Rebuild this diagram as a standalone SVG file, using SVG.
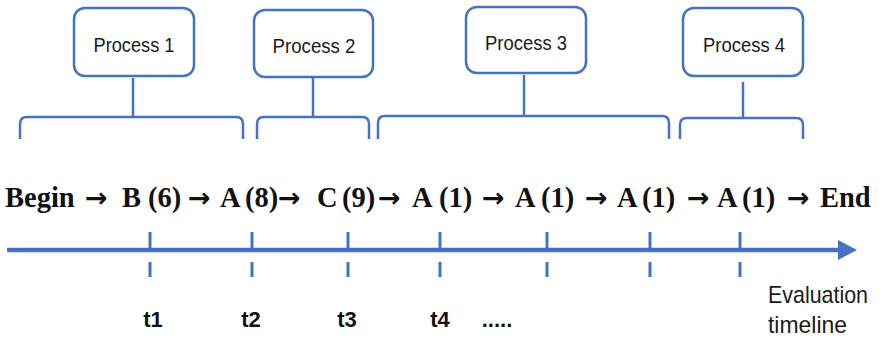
<svg xmlns="http://www.w3.org/2000/svg" width="882" height="341" viewBox="0 0 882 341">
  <style>
    .box { fill: #ffffff; stroke: #4472C4; stroke-width: 2.5; }
    .brace { fill: none; stroke: #4472C4; stroke-width: 2.5; stroke-linejoin: round; }
    .axis { stroke: #4472C4; stroke-width: 4.5; }
    .tick { stroke: #4472C4; stroke-width: 3; }
    .plabel { font-family: "Liberation Sans", Arial, sans-serif; font-size: 21px; fill: #1a1a1a; text-anchor: middle; }
    .seq { font-family: "Liberation Serif", "Times New Roman", serif; font-size: 28.5px; font-weight: bold; fill: #111111; }
    .arr { font-family: "DejaVu Sans", sans-serif; font-size: 27px; font-weight: bold; }
    .tlabel { font-family: "Liberation Sans", Arial, sans-serif; font-size: 22px; font-weight: bold; fill: #111111; text-anchor: middle; }
    .note { font-family: "Liberation Sans", Arial, sans-serif; font-size: 24px; fill: #1a1a1a; }
  </style>

  <!-- process boxes -->
  <g id="process1">
    <rect class="box" x="74" y="8" width="120" height="68" rx="11"/>
    <text class="plabel" x="134" y="52" textLength="81" lengthAdjust="spacingAndGlyphs">Process 1</text>
  </g>
  <g id="process2">
    <rect class="box" x="254" y="10" width="119" height="67" rx="11"/>
    <text class="plabel" x="314" y="53" textLength="83" lengthAdjust="spacingAndGlyphs">Process 2</text>
  </g>
  <g id="process3">
    <rect class="box" x="466" y="7" width="120" height="66" rx="11"/>
    <text class="plabel" x="526" y="50" textLength="82" lengthAdjust="spacingAndGlyphs">Process 3</text>
  </g>
  <g id="process4">
    <rect class="box" x="683" y="8" width="120" height="68" rx="11"/>
    <text class="plabel" x="744" y="52" textLength="82" lengthAdjust="spacingAndGlyphs">Process 4</text>
  </g>

  <!-- braces linking each process to its span of the sequence -->
  <g id="connectors">
    <path class="brace" d="M20,139 L20,124 Q20,117 27,117 L236,117 Q243,117 243,124 L243,139 M133,117 L133,78"/>
    <path class="brace" d="M257,139 L257,124 Q257,117 264,117 L362,117 Q369,117 369,124 L369,139 M313,117 L313,78"/>
    <path class="brace" d="M378,139 L378,123 Q378,116 385,116 L662,116 Q669,116 669,123 L669,139 M524,116 L524,75"/>
    <path class="brace" d="M680,139 L680,125 Q680,118 687,118 L796,118 Q803,118 803,125 L803,139 M743,118 L743,82"/>
  </g>

  <!-- sequence of states -->
  <g id="sequence">
    <text class="seq" y="207"><tspan x="5">Begin </tspan><tspan class="arr" x="85">→ </tspan><tspan x="122">B </tspan><tspan x="148">(6) </tspan><tspan class="arr" x="188">→ </tspan><tspan x="220">A </tspan><tspan x="245">(8)</tspan><tspan class="arr" x="278">→ </tspan><tspan x="317">C </tspan><tspan x="342">(9)</tspan><tspan class="arr" x="378">→ </tspan><tspan x="412">A </tspan><tspan x="439">(1) </tspan><tspan class="arr" x="482">→ </tspan><tspan x="515">A </tspan><tspan x="541">(1) </tspan><tspan class="arr" x="585">→ </tspan><tspan x="617">A </tspan><tspan x="642">(1) </tspan><tspan class="arr" x="687">→ </tspan><tspan x="717">A </tspan><tspan x="742">(1) </tspan><tspan class="arr" x="787">→ </tspan><tspan x="820">End</tspan></text>
  </g>

  <!-- evaluation timeline -->
  <g id="timeline">
    <line class="axis" x1="7" y1="250" x2="840" y2="250"/>
    <polygon points="838,240 857,250 838,260" fill="#4472C4"/>
    <g id="ticks">
      <path class="tick" d="M150,232 V250 M150,262 V277"/>
      <path class="tick" d="M252,232 V250 M252,262 V277"/>
      <path class="tick" d="M348,232 V250 M348,262 V277"/>
      <path class="tick" d="M440,232 V250 M440,262 V277"/>
      <path class="tick" d="M547,232 V250 M547,262 V277"/>
      <path class="tick" d="M650,232 V250 M650,262 V277"/>
      <path class="tick" d="M740,232 V250 M740,262 V277"/>
    </g>
    <text class="tlabel" x="153" y="327">t1</text>
    <text class="tlabel" x="251" y="327">t2</text>
    <text class="tlabel" x="347" y="327">t3</text>
    <text class="tlabel" x="440" y="327">t4</text>
    <text class="tlabel" x="497" y="327">.....</text>
    <text class="note" x="768" y="303" textLength="100" lengthAdjust="spacingAndGlyphs">Evaluation</text>
    <text class="note" x="768" y="333" textLength="79" lengthAdjust="spacingAndGlyphs">timeline</text>
  </g>
</svg>
